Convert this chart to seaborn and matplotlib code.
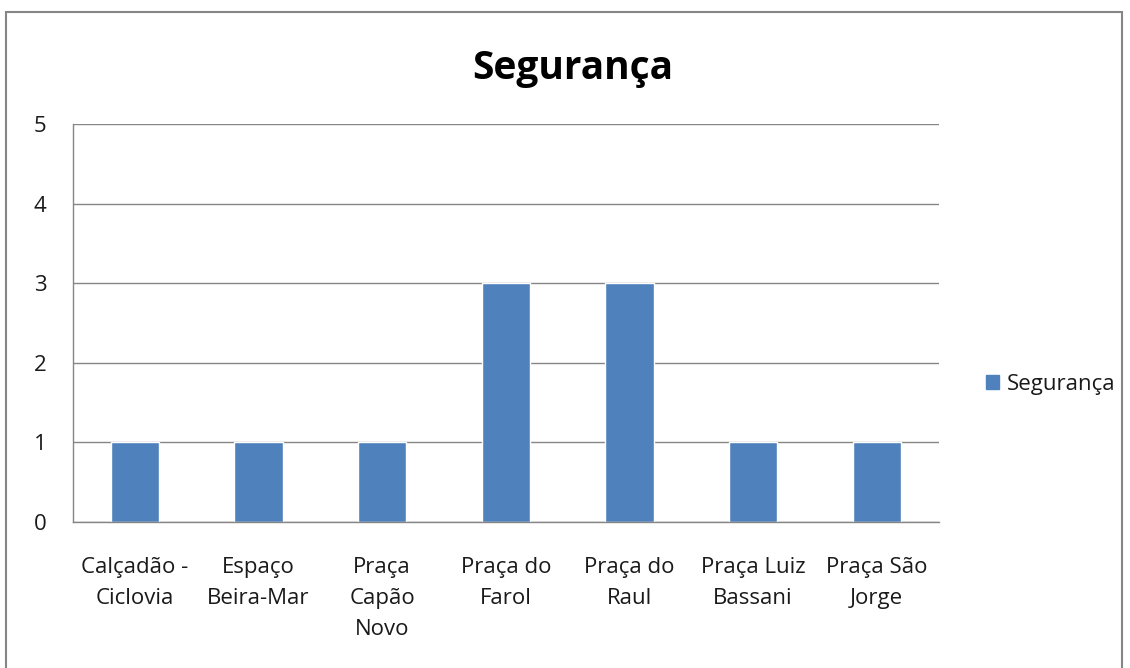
import matplotlib.pyplot as plt
import matplotlib.patches as mpatches
import numpy as np
import pandas as pd
import seaborn as sns

categorias = ["Calçadão -\nCiclovia", "Espaço\nBeira-Mar", "Praça\nCapão\nNovo",
              "Praça do\nFarol", "Praça do\nRaul", "Praça Luiz\nBassani", "Praça São\nJorge"]
seguranca = [1, 1, 1, 3, 3, 1, 1]

df = pd.DataFrame({"local": categorias, "valor": seguranca, "serie": "Segurança"})

sns.set_style("white")
plt.rcParams["font.family"] = ["Open Sans", "DejaVu Sans"]
plt.rcParams["text.color"] = "#1a1a1a"

fig = plt.figure(figsize=(11.3, 6.68), dpi=100)
ax = fig.add_axes([0.0646, 0.2186, 0.766, 0.5958])

sns.barplot(data=df, x="local", y="valor", hue="serie", palette=["#4F81BD"],
            width=0.39, ax=ax, legend=False, saturation=1)

ax.set_xlim(-0.5, len(categorias) - 0.5)
ax.set_ylim(0, 5)
ax.set_yticks(range(6))
ax.grid(axis="y", color="#868686", linewidth=1)
ax.set_axisbelow(True)
for s in ["top", "right"]:
    ax.spines[s].set_visible(False)
for s in ["left", "bottom"]:
    ax.spines[s].set_color("#868686")
    ax.spines[s].set_linewidth(1)

ax.set_xticks(np.arange(len(categorias) + 1) - 0.5, minor=True)
ax.tick_params(axis="x", which="major", length=0, pad=25, labelsize=16, labelcolor="#1a1a1a")
ax.tick_params(axis="x", which="minor", length=7, color="#868686", direction="out")
ax.tick_params(axis="y", length=7, color="#868686", direction="out", labelsize=16,
               labelcolor="#1a1a1a", pad=12)
ax.set_xticklabels(categorias, va="top", linespacing=1.62)
ax.set_xlabel("")
ax.set_ylabel("")

fig.text(0.507, 0.898, "Segurança", ha="center", va="center", fontsize=28, fontweight="bold",
         color="black")

handle = mpatches.Patch(color="#4F81BD", label="Segurança")
fig.legend(handles=[handle], loc="center left", bbox_to_anchor=(0.855, 0.424),
           frameon=False, fontsize=16, handlelength=0.6, handleheight=0.6,
           handletextpad=0.35)

border = mpatches.Rectangle((6 / 1130, -0.05), 1116 / 1130, 1.05 - 12 / 668,
                            transform=fig.transFigure, fill=False,
                            edgecolor="#868686", linewidth=1.5)
fig.add_artist(border)

fig.savefig("out.png", dpi=100)
